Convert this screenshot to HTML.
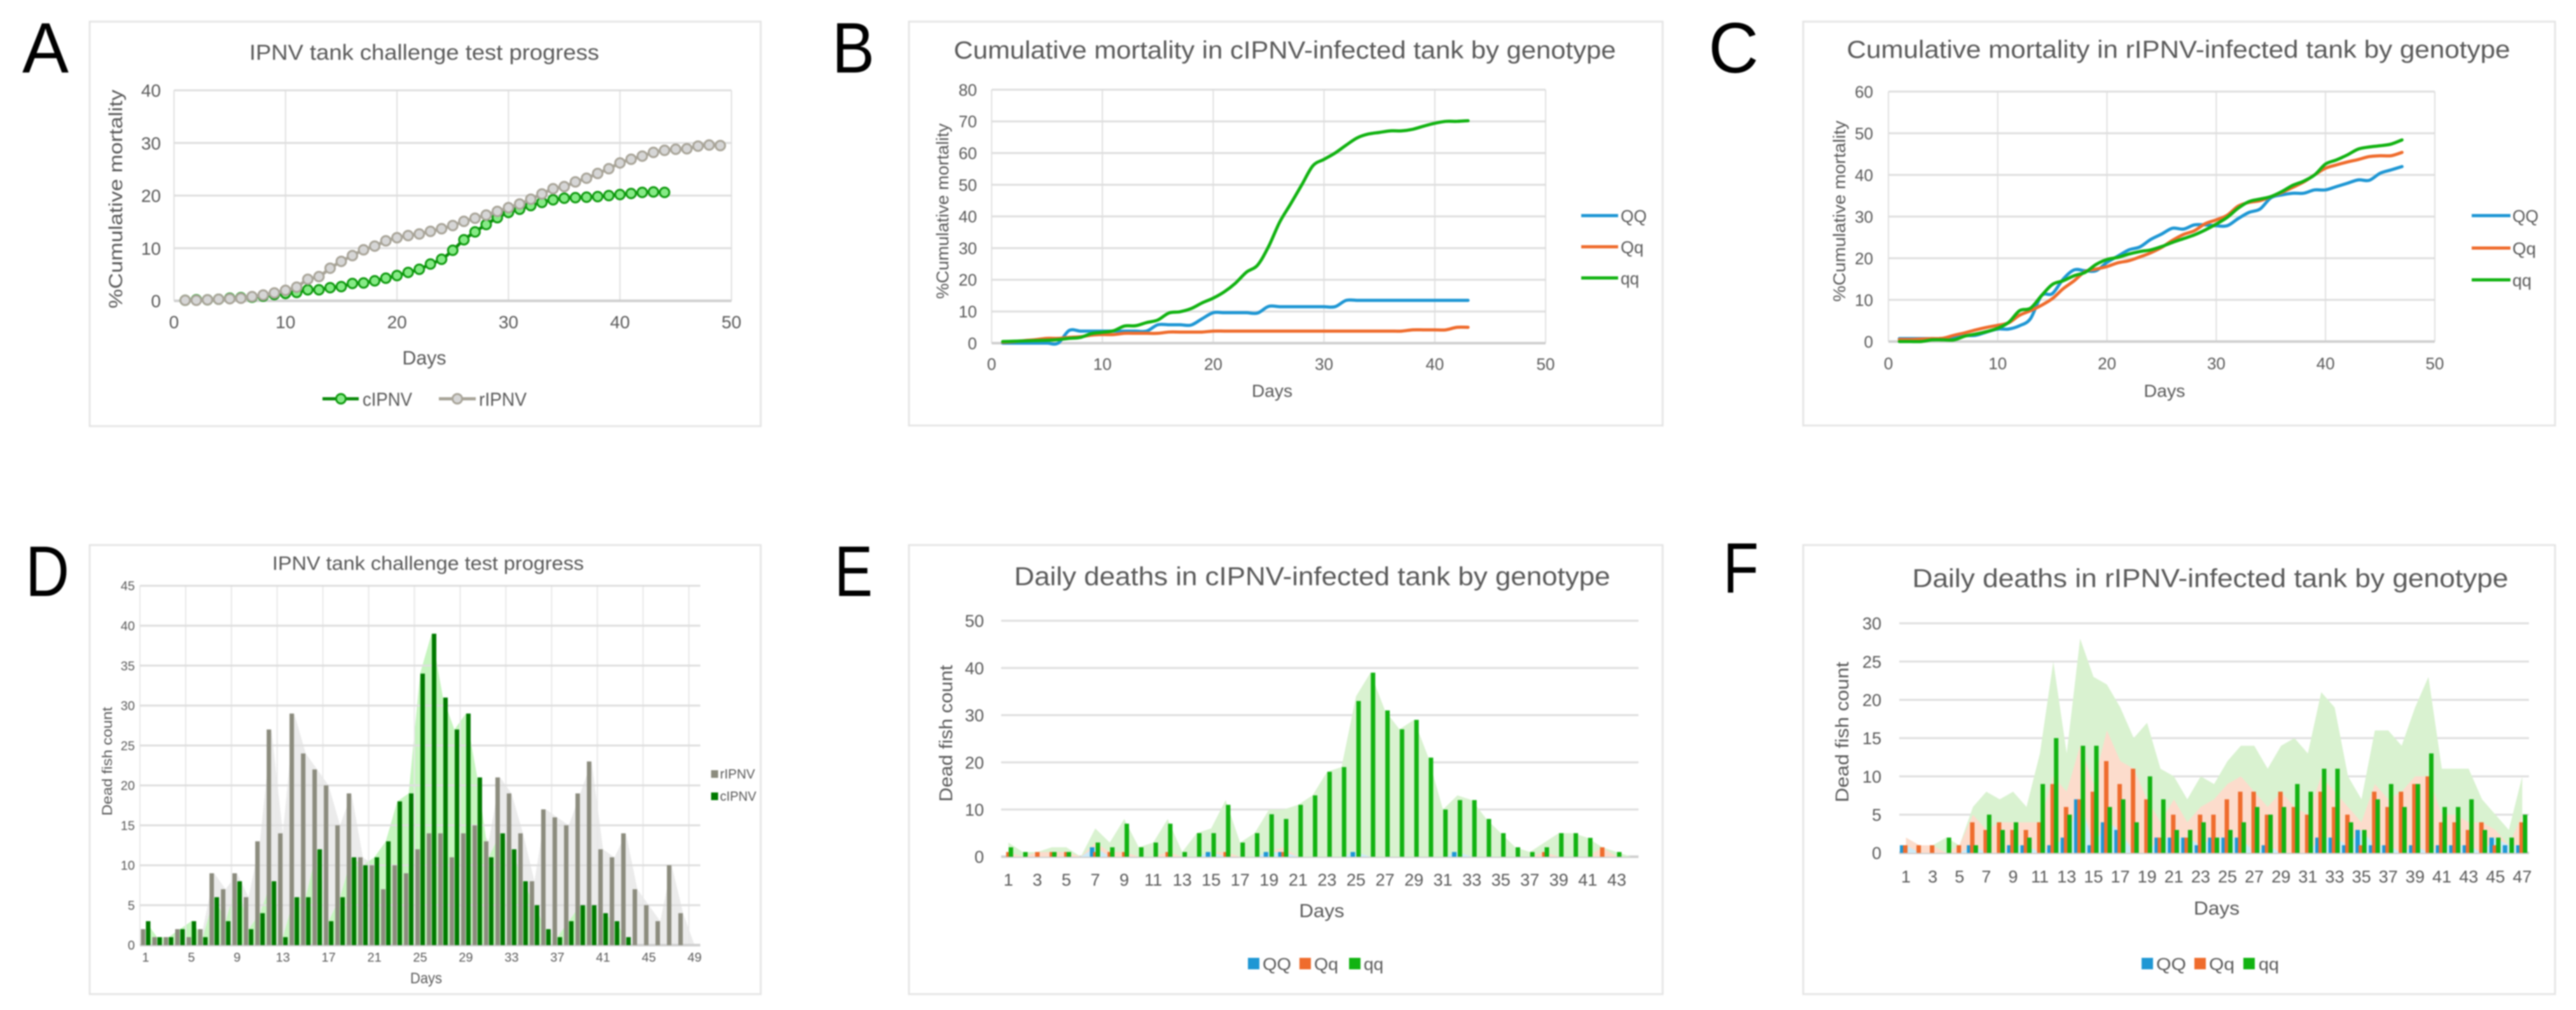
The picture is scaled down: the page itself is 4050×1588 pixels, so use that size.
<!DOCTYPE html>
<html lang="en">
<head>
<meta charset="utf-8">
<title>IPNV tank challenge charts</title>
<style>
  html, body { margin: 0; padding: 0; background: #fff; }
  svg { display: block; filter: blur(1px); }
  text { font-family: "Liberation Sans", sans-serif; fill: #595959; }
  .panel { fill: #fff; stroke: #e6e6e6; stroke-width: 3; }
  .letter { fill: #000; font-size: 112px; }
</style>
</head>
<body>
<svg xmlns="http://www.w3.org/2000/svg" width="4050" height="1588" viewBox="0 0 4050 1588">
  <rect x="0" y="0" width="4050" height="1588" fill="#fff"/>

  <text class="letter" x="35" y="114" textLength="73" lengthAdjust="spacingAndGlyphs">A</text>
  <text class="letter" x="1308" y="114" textLength="67" lengthAdjust="spacingAndGlyphs">B</text>
  <text class="letter" x="2686" y="114" textLength="79" lengthAdjust="spacingAndGlyphs">C</text>
  <text class="letter" x="40" y="937" textLength="69" lengthAdjust="spacingAndGlyphs">D</text>
  <text class="letter" x="1312" y="937" textLength="60" lengthAdjust="spacingAndGlyphs">E</text>
  <text class="letter" x="2709" y="932" textLength="56" lengthAdjust="spacingAndGlyphs">F</text>

  <!-- Panel A -->
  <g>
    <rect class="panel" x="141" y="34" width="1055" height="636"/>
    <text x="667" y="94" font-size="34" text-anchor="middle" textLength="550" lengthAdjust="spacingAndGlyphs">IPNV tank challenge test progress</text>
    <g id="plot-a"></g>
    <text x="667" y="573" font-size="31" text-anchor="middle" textLength="69" lengthAdjust="spacingAndGlyphs">Days</text>
    <text transform="translate(192,313) rotate(-90)" font-size="30" text-anchor="middle" textLength="344" lengthAdjust="spacingAndGlyphs">%Cumulative mortality</text>
    <g>
      <line x1="507" y1="627" x2="564" y2="627" stroke="#0a8a0a" stroke-width="5"/>
      <circle cx="536" cy="627" r="7.5" fill="#86ea86" stroke="#0e9a0e" stroke-width="3"/>
      <text x="570" y="638" font-size="30" textLength="78" lengthAdjust="spacingAndGlyphs">cIPNV</text>
      <line x1="690" y1="627" x2="748" y2="627" stroke="#a8a498" stroke-width="5"/>
      <circle cx="719" cy="627" r="7.5" fill="#d6d6d6" stroke="#a8a498" stroke-width="3"/>
      <text x="753" y="638" font-size="30" textLength="75" lengthAdjust="spacingAndGlyphs">rIPNV</text>
    </g>
  </g>

  <!-- Panel B -->
  <g>
    <rect class="panel" x="1429" y="34" width="1185" height="635"/>
    <text x="2020" y="92" font-size="39" text-anchor="middle" textLength="1041" lengthAdjust="spacingAndGlyphs">Cumulative mortality in cIPNV-infected tank by genotype</text>
    <g id="plot-b"></g>
    <text x="2000" y="624" font-size="28" text-anchor="middle" textLength="64" lengthAdjust="spacingAndGlyphs">Days</text>
    <text transform="translate(1491,332) rotate(-90)" font-size="27" text-anchor="middle" textLength="276" lengthAdjust="spacingAndGlyphs">%Cumulative mortality</text>
    <g>
      <line x1="2486" y1="339" x2="2544" y2="339" stroke="#1f97d4" stroke-width="5"/>
      <text x="2548" y="349" font-size="27" textLength="41" lengthAdjust="spacingAndGlyphs">QQ</text>
      <line x1="2486" y1="388" x2="2544" y2="388" stroke="#ef6c2d" stroke-width="5"/>
      <text x="2548" y="398" font-size="27" textLength="36" lengthAdjust="spacingAndGlyphs">Qq</text>
      <line x1="2486" y1="437" x2="2544" y2="437" stroke="#12b312" stroke-width="5"/>
      <text x="2548" y="447" font-size="27" textLength="29" lengthAdjust="spacingAndGlyphs">qq</text>
    </g>
  </g>

  <!-- Panel C -->
  <g>
    <rect class="panel" x="2835" y="34" width="1182" height="635"/>
    <text x="3425" y="91" font-size="39" text-anchor="middle" textLength="1043" lengthAdjust="spacingAndGlyphs">Cumulative mortality in rIPNV-infected tank by genotype</text>
    <g id="plot-c"></g>
    <text x="3403" y="624" font-size="28" text-anchor="middle" textLength="65" lengthAdjust="spacingAndGlyphs">Days</text>
    <text transform="translate(2901,332) rotate(-90)" font-size="27" text-anchor="middle" textLength="285" lengthAdjust="spacingAndGlyphs">%Cumulative mortality</text>
    <g>
      <line x1="3886" y1="339" x2="3947" y2="339" stroke="#1f97d4" stroke-width="5"/>
      <text x="3950" y="349" font-size="27" textLength="41" lengthAdjust="spacingAndGlyphs">QQ</text>
      <line x1="3886" y1="390" x2="3947" y2="390" stroke="#ef6c2d" stroke-width="5"/>
      <text x="3950" y="400" font-size="27" textLength="37" lengthAdjust="spacingAndGlyphs">Qq</text>
      <line x1="3886" y1="440" x2="3947" y2="440" stroke="#12b312" stroke-width="5"/>
      <text x="3950" y="450" font-size="27" textLength="30" lengthAdjust="spacingAndGlyphs">qq</text>
    </g>
  </g>

  <!-- Panel D -->
  <g>
    <rect class="panel" x="141" y="857" width="1055" height="706"/>
    <text x="673" y="896" font-size="31" text-anchor="middle" textLength="490" lengthAdjust="spacingAndGlyphs">IPNV tank challenge test progress</text>
    <g id="plot-d"></g>
    <text x="670" y="1546" font-size="24" text-anchor="middle" textLength="50" lengthAdjust="spacingAndGlyphs">Days</text>
    <text transform="translate(176,1197) rotate(-90)" font-size="22" text-anchor="middle" textLength="171" lengthAdjust="spacingAndGlyphs">Dead fish count</text>
    <g>
      <rect x="1118" y="1211" width="11" height="12" fill="#8c8c7e"/>
      <text x="1132" y="1224" font-size="21" textLength="55" lengthAdjust="spacingAndGlyphs">rIPNV</text>
      <rect x="1118" y="1246" width="11" height="12" fill="#007a00"/>
      <text x="1132" y="1259" font-size="21" textLength="57" lengthAdjust="spacingAndGlyphs">cIPNV</text>
    </g>
  </g>

  <!-- Panel E -->
  <g>
    <rect class="panel" x="1429" y="857" width="1185" height="706"/>
    <text x="2063" y="920" font-size="41" text-anchor="middle" textLength="937" lengthAdjust="spacingAndGlyphs">Daily deaths in cIPNV-infected tank by genotype</text>
    <g id="plot-e"></g>
    <text x="2078" y="1442" font-size="30" text-anchor="middle" textLength="71" lengthAdjust="spacingAndGlyphs">Days</text>
    <text transform="translate(1497,1153) rotate(-90)" font-size="29" text-anchor="middle" textLength="215" lengthAdjust="spacingAndGlyphs">Dead fish count</text>
    <g>
      <rect x="1962" y="1506" width="18" height="18" fill="#1f97d4"/>
      <text x="1985" y="1525" font-size="27" textLength="45" lengthAdjust="spacingAndGlyphs">QQ</text>
      <rect x="2043" y="1506" width="18" height="18" fill="#ef6c2d"/>
      <text x="2066" y="1525" font-size="27" textLength="38" lengthAdjust="spacingAndGlyphs">Qq</text>
      <rect x="2121" y="1506" width="18" height="18" fill="#12b312"/>
      <text x="2144" y="1525" font-size="27" textLength="31" lengthAdjust="spacingAndGlyphs">qq</text>
    </g>
  </g>

  <!-- Panel F -->
  <g>
    <rect class="panel" x="2835" y="857" width="1182" height="706"/>
    <text x="3475" y="923" font-size="41" text-anchor="middle" textLength="937" lengthAdjust="spacingAndGlyphs">Daily deaths in rIPNV-infected tank by genotype</text>
    <g id="plot-f"></g>
    <text x="3485" y="1438" font-size="30" text-anchor="middle" textLength="72" lengthAdjust="spacingAndGlyphs">Days</text>
    <text transform="translate(2906,1151) rotate(-90)" font-size="29" text-anchor="middle" textLength="221" lengthAdjust="spacingAndGlyphs">Dead fish count</text>
    <g>
      <rect x="3367" y="1506" width="18" height="18" fill="#1f97d4"/>
      <text x="3390" y="1525" font-size="27" textLength="47" lengthAdjust="spacingAndGlyphs">QQ</text>
      <rect x="3450" y="1506" width="18" height="18" fill="#ef6c2d"/>
      <text x="3473" y="1525" font-size="27" textLength="40" lengthAdjust="spacingAndGlyphs">Qq</text>
      <rect x="3527" y="1506" width="18" height="18" fill="#12b312"/>
      <text x="3551" y="1525" font-size="27" textLength="32" lengthAdjust="spacingAndGlyphs">qq</text>
    </g>
  </g>
</svg>

<script>
/* ---------- Chart A: cumulative mortality by isolate ---------- */
const aXTicks = [0, 10, 20, 30, 40, 50];
const aYTicks = [0, 10, 20, 30, 40];
const aCipnv = [0.1,0.2,0.2,0.3,0.5,0.6,0.7,0.9,1.2,1.4,1.6,2.1,2.1,2.5,2.7,3.3,3.4,3.8,4.3,4.8,5.4,6.0,7.0,7.9,9.6,11.6,13.1,14.5,15.8,16.8,17.4,18.1,18.7,19.2,19.5,19.6,19.7,19.8,20.0,20.2,20.4,20.6,20.7,20.6];
const aRipnv = [0.1,0.1,0.2,0.3,0.4,0.5,0.8,1.1,1.5,2.0,2.6,4.1,4.6,6.2,7.5,8.6,9.7,10.4,11.4,12.0,12.4,12.7,13.2,13.7,14.3,15.1,15.7,16.3,17.0,17.7,18.4,19.3,20.3,21.3,21.7,22.6,23.3,24.2,25.1,26.2,26.9,27.5,28.2,28.6,28.8,28.9,29.4,29.6,29.5];

/* ---------- Chart B: cumulative mortality, cIPNV tank ---------- */
const bXTicks = [0, 10, 20, 30, 40, 50];
const bYTicks = [0, 10, 20, 30, 40, 50, 60, 70, 80];
const bQQ = [0,0,0,0,0,0,4.0,3.8,3.8,3.8,3.8,3.8,3.8,3.8,5.8,5.8,5.8,5.7,7.7,9.6,9.6,9.6,9.6,9.5,11.6,11.5,11.5,11.5,11.5,11.5,11.5,13.5,13.5,13.5,13.5,13.5,13.5,13.5,13.5,13.5,13.5,13.5,13.5];
const bQq = [0.3,0.5,0.8,1.1,1.5,1.5,1.8,2.0,2.5,2.7,2.7,3.1,3.1,3.1,3.1,3.5,3.5,3.5,3.5,3.8,3.8,3.8,3.8,3.8,3.8,3.8,3.8,3.8,3.8,3.8,3.8,3.8,3.8,3.8,3.8,3.8,3.8,4.2,4.2,4.2,4.2,5.0,5.0];
const bqq = [0.5,0.6,0.7,0.8,0.9,1.1,1.5,1.8,3.0,3.4,3.9,5.4,5.5,6.5,7.3,9.5,9.9,10.9,12.7,14.2,16.2,18.9,22.4,24.6,30.5,38.2,44,50,56,58,60,62.5,64.8,66,66.5,67,67,67.5,68.5,69.4,70,70,70.2];

/* ---------- Chart C: cumulative mortality, rIPNV tank ---------- */
const cXTicks = [0, 10, 20, 30, 40, 50];
const cYTicks = [0, 10, 20, 30, 40, 50, 60];
const cQQ = [0.7,0.7,0.7,0.7,0.7,0.9,1.4,1.5,2.3,3,3,3.8,5.5,11,11.5,15,17.2,17,17,19,20.5,22,22.7,24.5,25.8,27.2,27,28,28,27.8,27.8,29.5,31,31.8,34.5,35.2,35.6,35.6,36.4,36.4,37.2,38,38.8,38.7,40.4,41.2,42];
const cQq = [0.5,0.5,0.6,0.7,0.8,1.5,2.1,2.8,3.4,3.9,4.5,6.3,7.4,8.7,10.3,12.7,14.6,16.8,17.4,18,18.9,19.4,20.3,21.3,22.6,24.3,25.7,26.6,28.3,29.2,30.3,32.5,33.4,33.8,34.8,35.8,37,38.3,40,41.6,42.4,43.1,43.7,44.4,44.6,44.6,45.4];
const cqq = [0,0,0,0.4,0.4,0.4,1.3,1.8,2.4,3.2,4.6,7.4,8,11,13.7,14.6,15.8,16.6,18.5,19.7,20.2,21,21.6,22,22.8,23.8,24.7,25.6,26.8,28.2,29.8,32,33.6,34.2,34.8,36,37.5,38.5,40,42.6,43.6,44.8,46.2,46.7,47,47.4,48.4];

/* ---------- Chart D: daily deaths by isolate ---------- */
const dDays = [1,2,3,4,5,6,7,8,9,10,11,12,13,14,15,16,17,18,19,20,21,22,23,24,25,26,27,28,29,30,31,32,33,34,35,36,37,38,39,40,41,42,43,44,45,46,47,48,49];
const dXTicks = [1,5,9,13,17,21,25,29,33,37,41,45,49];
const dYTicks = [0,5,10,15,20,25,30,35,40,45];
const dRipnv = [2,1,1,2,1,2,9,7,9,6,13,27,14,29,24,22,20,15,19,11,10,7,10,9,12,14,14,11,14,15,13,21,19,14,8,17,16,15,19,23,12,11,14,7,5,3,10,4,0];
const dCipnv = [3,1,1,2,3,1,6,3,8,2,4,8,1,6,6,12,3,6,11,10,11,13,18,19,34,39,31,27,29,21,11,14,12,8,5,2,1,3,5,5,4,3,1];

/* ---------- Chart E: daily deaths, cIPNV tank ---------- */
const eDays = [1,2,3,4,5,6,7,8,9,10,11,12,13,14,15,16,17,18,19,20,21,22,23,24,25,26,27,28,29,30,31,32,33,34,35,36,37,38,39,40,41,42,43,44];
const eXTicks = [1,3,5,7,9,11,13,15,17,19,21,23,25,27,29,31,33,35,37,39,41,43];
const eYTicks = [0,10,20,30,40,50];
const eQQ = [0,0,0,0,0,0,2,0,0,0,0,0,0,0,1,0,0,0,1,1,0,0,0,0,1,0,0,0,0,0,0,1,0,0,0,0,0,0,0,0,0,0,0,0];
const eQq = [1,0,1,1,1,0,1,1,1,0,0,1,0,0,0,1,0,0,0,1,0,0,0,0,0,0,0,0,0,0,0,0,0,0,0,0,0,1,0,0,0,2,0,0];
const eqq = [2,1,0,1,1,0,3,2,7,2,3,7,1,5,5,11,3,5,9,8,11,13,18,19,33,39,31,27,29,21,10,12,12,8,5,2,1,2,5,5,4,0,1,0];

/* ---------- Chart F: daily deaths, rIPNV tank ---------- */
const fDays = [1,2,3,4,5,6,7,8,9,10,11,12,13,14,15,16,17,18,19,20,21,22,23,24,25,26,27,28,29,30,31,32,33,34,35,36,37,38,39,40,41,42,43,44,45,46,47];
const fXTicks = [1,3,5,7,9,11,13,15,17,19,21,23,25,27,29,31,33,35,37,39,41,43,45,47];
const fYTicks = [0,5,10,15,20,25,30];
const fQQ = [1,0,0,0,0,1,0,0,1,1,0,1,2,7,1,4,3,0,0,2,2,2,1,2,2,2,0,1,0,0,0,2,2,1,3,1,1,0,1,0,1,1,1,0,2,1,1];
const fQq = [1,1,1,0,1,4,3,4,3,3,4,9,6,7,8,12,9,11,7,2,5,2,5,5,7,8,8,5,8,6,5,8,6,5,1,8,6,8,9,10,4,4,3,4,1,0,4];
const fqq = [0,0,0,2,0,1,5,3,4,2,9,15,5,14,14,6,7,4,10,7,3,3,4,2,3,4,6,5,6,9,8,11,11,4,3,7,9,6,9,13,6,6,7,3,2,2,5];

/* ---------- Layout (pixels) is kept apart from the data ---------- */
const layoutA = { left: 273.6, right: 1150, top: 142, bottom: 473, xMin: 0, xMax: 50, yMax: 40, tick: 28, yLabelX: 253, xLabelY: 506, gridV: true };
const layoutB = { left: 1559, right: 2430, top: 141, bottom: 539.5, xMin: 0, xMax: 50, yMax: 80, tick: 26, yLabelX: 1536, xLabelY: 572, gridV: true };
const layoutC = { left: 2969, right: 3828, top: 144, bottom: 537, xMin: 0, xMax: 50, yMax: 60, tick: 26, yLabelX: 2945, xLabelY: 571, gridV: true };
const layoutD = { left: 220, right: 1101, top: 921, bottom: 1486, yMax: 45, tick: 20, yLabelX: 212, xLabelY: 1505, gridV: true, barW: 7, barOffsets: [-4, 4] };
const layoutE = { left: 1574, right: 2576, top: 976, bottom: 1347, yMax: 50, tick: 27, yLabelX: 1547, xLabelY: 1383, gridV: false, barW: 7, barOffsets: [-5, 0, 4] };
const layoutF = { left: 2986, right: 3976, top: 980, bottom: 1341, yMax: 30, tick: 27, yLabelX: 2958, xLabelY: 1378, gridV: false, barW: 7, barOffsets: [-6, -1, 4.5] };

const SVG_NS = 'http://www.w3.org/2000/svg';
function svgEl(tag, attrs, parent) {
  const node = document.createElementNS(SVG_NS, tag);
  for (const key in attrs) node.setAttribute(key, attrs[key]);
  parent.appendChild(node);
  return node;
}
function linearX(l) { return v => l.left + (v - l.xMin) / (l.xMax - l.xMin) * (l.right - l.left); }
function valueY(l) { return v => l.bottom - v / l.yMax * (l.bottom - l.top); }
function bandX(l, n) { const w = (l.right - l.left) / n; return day => l.left + (day - 0.5) * w; }

function drawYGrid(parent, l, ticks) {
  const y = valueY(l);
  ticks.forEach(t => {
    const line = svgEl('line', { x1: l.left, x2: l.right, y1: y(t), y2: y(t), stroke: t === 0 ? '#cfcfcf' : '#dedede', 'stroke-width': t === 0 ? 4 : 3 }, parent);
    
    
    const label = svgEl('text', { x: l.yLabelX, y: y(t) + l.tick * 0.36, 'font-size': l.tick, 'text-anchor': 'end' }, parent);
    label.textContent = t;
    
    
  });
}
function drawXLinearAxis(parent, l, ticks) {
  const x = linearX(l);
  ticks.forEach(t => {
    if (l.gridV) {
      const line = svgEl('line', { x1: x(t), x2: x(t), y1: l.top, y2: l.bottom, stroke: '#e0e0e0', 'stroke-width': 2 }, parent);
      
      
    }
    const label = svgEl('text', { x: x(t), y: l.xLabelY + l.tick * 0.36, 'font-size': l.tick, 'text-anchor': 'middle' }, parent);
    label.textContent = t;
    
    
  });
}
function drawXBandAxis(parent, l, days, ticks) {
  const x = bandX(l, days.length);
  const w = (l.right - l.left) / days.length;
  ticks.forEach(t => {
    if (l.gridV) {
      const line = svgEl('line', { x1: x(t) - w / 2, x2: x(t) - w / 2, y1: l.top, y2: l.bottom, stroke: '#e8e8e8', 'stroke-width': 2 }, parent);
      
      
    }
    const label = svgEl('text', { x: x(t), y: l.xLabelY + l.tick * 0.36, 'font-size': l.tick, 'text-anchor': 'middle' }, parent);
    label.textContent = t;
    
    
  });
}
/* Catmull-Rom smoothing, like spreadsheet "smoothed line" */
function smoothPath(pts) {
  let d = 'M' + pts[0][0] + ' ' + pts[0][1];
  for (let i = 0; i < pts.length - 1; i++) {
    const p0 = pts[Math.max(i - 1, 0)], p1 = pts[i], p2 = pts[i + 1], p3 = pts[Math.min(i + 2, pts.length - 1)];
    const c1x = p1[0] + (p2[0] - p0[0]) / 6, c1y = p1[1] + (p2[1] - p0[1]) / 6;
    const c2x = p2[0] - (p3[0] - p1[0]) / 6, c2y = p2[1] - (p3[1] - p1[1]) / 6;
    d += ' C' + c1x + ' ' + c1y + ' ' + c2x + ' ' + c2y + ' ' + p2[0] + ' ' + p2[1];
  }
  return d;
}
function drawLineSeries(parent, l, values, color, name) {
  const x = linearX(l), y = valueY(l);
  const pts = values.map((v, i) => [x(i + 1), y(v)]);
  const path = svgEl('path', { d: smoothPath(pts), fill: 'none', stroke: color, 'stroke-width': 5, 'stroke-linejoin': 'round', 'stroke-linecap': 'round' }, parent);
  
  
  return pts;
}
function drawMarkers(parent, pts, fill, stroke, name) {
  pts.forEach(p => {
    const dot = svgEl('circle', { cx: p[0], cy: p[1], r: 7.5, fill: fill, stroke: stroke, 'stroke-width': 3 }, parent);
    
    
  });
}
function drawArea(parent, l, n, values, fill, name) {
  const x = bandX(l, n), y = valueY(l);
  let d = 'M' + x(1) + ' ' + y(0);
  values.forEach((v, i) => { d += ' L' + x(i + 1) + ' ' + y(v); });
  d += ' L' + x(values.length) + ' ' + y(0) + ' Z';
  const path = svgEl('path', { d: d, fill: fill, stroke: 'none' }, parent);
  
  
}
function drawBars(parent, l, n, values, offset, color, name) {
  const x = bandX(l, n), y = valueY(l);
  values.forEach((v, i) => {
    if (v <= 0) return;
    const bar = svgEl('rect', { x: x(i + 1) + offset - l.barW / 2, y: y(v), width: l.barW, height: y(0) - y(v), fill: color }, parent);
    
    
  });
}
function addSeries(a, b) { return a.map((v, i) => v + (b[i] || 0)); }

const COLOR_QQ = '#1f97d4', COLOR_HET = '#ef6c2d', COLOR_REC = '#12b312';

/* Chart A */
(function () {
  const g = document.getElementById('plot-a');
  drawXLinearAxis(g, layoutA, aXTicks);
  drawYGrid(g, layoutA, aYTicks);
  const cPts = drawLineSeries(g, layoutA, aCipnv, '#0a8a0a', 'cipnv-line');
  drawMarkers(g, cPts, '#86ea86', '#0e9a0e', 'cipnv-point');
  const rPts = drawLineSeries(g, layoutA, aRipnv, '#a8a498', 'ripnv-line');
  drawMarkers(g, rPts, '#d6d6d6', '#a8a498', 'ripnv-point');
})();
/* Chart B */
(function () {
  const g = document.getElementById('plot-b');
  drawXLinearAxis(g, layoutB, bXTicks);
  drawYGrid(g, layoutB, bYTicks);
  drawLineSeries(g, layoutB, bQQ, COLOR_QQ, 'qq-dominant-line');
  drawLineSeries(g, layoutB, bQq, COLOR_HET, 'qq-hetero-line');
  drawLineSeries(g, layoutB, bqq, COLOR_REC, 'qq-recessive-line');
})();
/* Chart C */
(function () {
  const g = document.getElementById('plot-c');
  drawXLinearAxis(g, layoutC, cXTicks);
  drawYGrid(g, layoutC, cYTicks);
  drawLineSeries(g, layoutC, cQQ, COLOR_QQ, 'qq-dominant-line');
  drawLineSeries(g, layoutC, cQq, COLOR_HET, 'qq-hetero-line');
  drawLineSeries(g, layoutC, cqq, COLOR_REC, 'qq-recessive-line');
})();
/* Chart D */
(function () {
  const g = document.getElementById('plot-d');
  const n = dDays.length;
  drawArea(g, layoutD, n, dRipnv, '#ebebeb', 'ripnv-area');
  drawArea(g, layoutD, n, dCipnv, '#c6f5bf', 'cipnv-area');
  drawXBandAxis(g, layoutD, dDays, dXTicks);
  drawYGrid(g, layoutD, dYTicks);
  drawBars(g, layoutD, n, dRipnv, layoutD.barOffsets[0], '#8c8c7e', 'ripnv-bar');
  drawBars(g, layoutD, n, dCipnv, layoutD.barOffsets[1], '#007a00', 'cipnv-bar');
})();
/* Chart E */
(function () {
  const g = document.getElementById('plot-e');
  const n = eDays.length;
  drawXBandAxis(g, layoutE, eDays, eXTicks);
  drawYGrid(g, layoutE, eYTicks);
  const stackHet = addSeries(eQQ, eQq);
  drawArea(g, layoutE, n, addSeries(stackHet, eqq), '#d9f2d0', 'qq-recessive-area');
  drawArea(g, layoutE, n, stackHet, '#fcdccc', 'qq-hetero-area');
  drawArea(g, layoutE, n, eQQ, '#cdeaf7', 'qq-dominant-area');
  drawBars(g, layoutE, n, eQQ, layoutE.barOffsets[0], COLOR_QQ, 'qq-dominant-bar');
  drawBars(g, layoutE, n, eQq, layoutE.barOffsets[1], COLOR_HET, 'qq-hetero-bar');
  drawBars(g, layoutE, n, eqq, layoutE.barOffsets[2], COLOR_REC, 'qq-recessive-bar');
})();
/* Chart F */
(function () {
  const g = document.getElementById('plot-f');
  const n = fDays.length;
  drawXBandAxis(g, layoutF, fDays, fXTicks);
  drawYGrid(g, layoutF, fYTicks);
  const stackHet = addSeries(fQQ, fQq);
  drawArea(g, layoutF, n, addSeries(stackHet, fqq), '#d9f2d0', 'qq-recessive-area');
  drawArea(g, layoutF, n, stackHet, '#fcdccc', 'qq-hetero-area');
  drawArea(g, layoutF, n, fQQ, '#cdeaf7', 'qq-dominant-area');
  drawBars(g, layoutF, n, fQQ, layoutF.barOffsets[0], COLOR_QQ, 'qq-dominant-bar');
  drawBars(g, layoutF, n, fQq, layoutF.barOffsets[1], COLOR_HET, 'qq-hetero-bar');
  drawBars(g, layoutF, n, fqq, layoutF.barOffsets[2], COLOR_REC, 'qq-recessive-bar');
})();
</script>
</body>
</html>
